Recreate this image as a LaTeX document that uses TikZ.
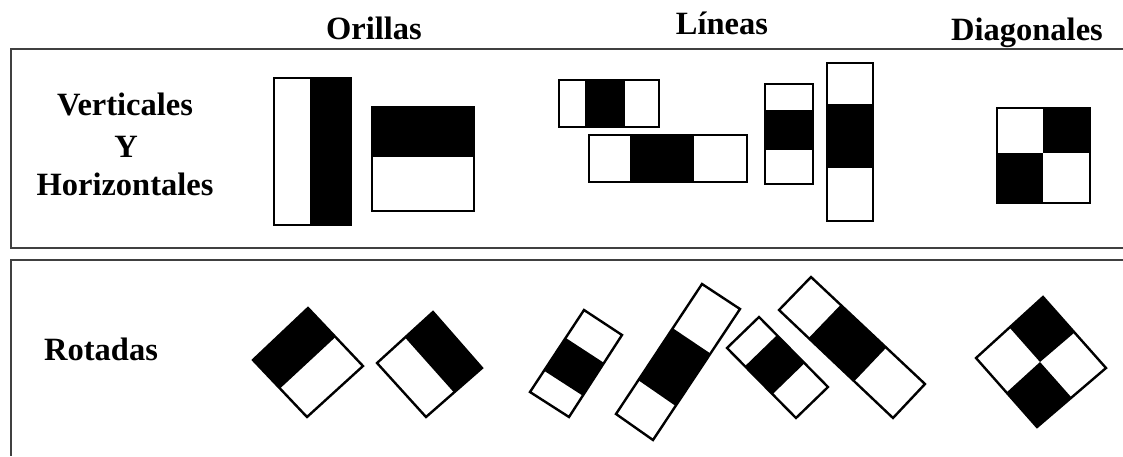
\documentclass[tikz,border=0pt]{standalone}
\usepackage{fontspec}
\setmainfont{Liberation Serif}
\usetikzlibrary{calc}

\begin{document}
\begin{tikzpicture}[
    x=1pt, y=-1pt,
    heading/.style={font=\fontsize{32.5}{40}\selectfont\bfseries, anchor=base, inner sep=0pt},
    rowlabel/.style={font=\fontsize{32.5}{40}\selectfont\bfseries, anchor=base, inner sep=0pt},
    frame/.style={draw=black!75, line width=2pt},
    tile/.style={draw=black, line width=2.4pt},
    dark/.style={fill=black}
]
\useasboundingbox (0,0) rectangle (1123,456);

% Frames
\draw[frame] (1123,49) -- (11,49) -- (11,248) -- (1123,248);
\draw[frame] (1123,260) -- (11,260) -- (11,456);

% Column headings
\node[heading] (orillas) at (374,39) {Orillas};
\node[heading] (lineas) at (722,34) {Líneas};
\node[heading] (diagonales) at (1027,40) {Diagonales};

% Row labels
\node[rowlabel] (verticales) at (125,115) {Verticales};
\node[rowlabel] (yconj) at (126,157) {Y};
\node[rowlabel] (horizontales) at (125,195) {Horizontales};
\node[rowlabel, anchor=base west] (rotadas) at (44,360) {Rotadas};

% Verticales y horizontales - Orillas
\fill[dark] (310,78) rectangle (351,225);
\draw[tile] (274,78) rectangle (351,225);
\fill[dark] (372,107) rectangle (474,157);
\draw[tile] (372,107) rectangle (474,211);

% Verticales y horizontales - Lineas
\fill[dark] (585,80) rectangle (625,127);
\draw[tile] (559,80) rectangle (659,127);
\fill[dark] (630,135) rectangle (694,182);
\draw[tile] (589,135) rectangle (747,182);
\fill[dark] (765,110) rectangle (813,150);
\draw[tile] (765,84) rectangle (813,184);
\fill[dark] (827,104) rectangle (873,168);
\draw[tile] (827,63) rectangle (873,221);

% Verticales y horizontales - Diagonales
\fill[dark] (1043,108) rectangle (1090,153);
\fill[dark] (997,153) rectangle (1043,203);
\draw[tile] (997,108) rectangle (1090,203);

% Rotadas - Orillas
\coordinate (e1t) at (308,308);
\coordinate (e1r) at (363,366);
\coordinate (e1b) at (307,417);
\coordinate (e1l) at (253,360);
\fill[dark] (e1t) -- ($(e1t)!0.5!(e1r)$) -- ($(e1l)!0.5!(e1b)$) -- (e1l) -- cycle;
\draw[tile] (e1t) -- (e1r) -- (e1b) -- (e1l) -- cycle;

\coordinate (e2t) at (433,312);
\coordinate (e2r) at (482,368);
\coordinate (e2b) at (426,417);
\coordinate (e2l) at (377,363);
\fill[dark] (e2t) -- (e2r) -- ($(e2r)!0.5!(e2b)$) -- ($(e2t)!0.5!(e2l)$) -- cycle;
\draw[tile] (e2t) -- (e2r) -- (e2b) -- (e2l) -- cycle;

% Rotadas - Lineas
\coordinate (l1t) at (584,310);
\coordinate (l1r) at (622,335);
\coordinate (l1b) at (569,417);
\coordinate (l1l) at (530,392);
\fill[dark] ($(l1l)!0.26!(l1t)$) -- ($(l1l)!0.66!(l1t)$) -- ($(l1b)!0.66!(l1r)$) -- ($(l1b)!0.26!(l1r)$) -- cycle;
\draw[tile] (l1t) -- (l1r) -- (l1b) -- (l1l) -- cycle;

\coordinate (l2t) at (702,284);
\coordinate (l2r) at (740,309);
\coordinate (l2b) at (653,440);
\coordinate (l2l) at (616,414);
\fill[dark] ($(l2l)!0.26!(l2t)$) -- ($(l2l)!0.66!(l2t)$) -- ($(l2b)!0.66!(l2r)$) -- ($(l2b)!0.26!(l2r)$) -- cycle;
\draw[tile] (l2t) -- (l2r) -- (l2b) -- (l2l) -- cycle;

\coordinate (l3t) at (759,317);
\coordinate (l3r) at (828,387);
\coordinate (l3b) at (796,418);
\coordinate (l3l) at (727,348);
\fill[dark] ($(l3l)!0.26!(l3b)$) -- ($(l3l)!0.66!(l3b)$) -- ($(l3t)!0.66!(l3r)$) -- ($(l3t)!0.26!(l3r)$) -- cycle;
\draw[tile] (l3t) -- (l3r) -- (l3b) -- (l3l) -- cycle;

\coordinate (l4t) at (811,277);
\coordinate (l4r) at (925,384);
\coordinate (l4b) at (893,418);
\coordinate (l4l) at (779,310);
\fill[dark] ($(l4l)!0.26!(l4b)$) -- ($(l4l)!0.66!(l4b)$) -- ($(l4t)!0.66!(l4r)$) -- ($(l4t)!0.26!(l4r)$) -- cycle;
\draw[tile] (l4t) -- (l4r) -- (l4b) -- (l4l) -- cycle;

% Rotadas - Diagonales
\coordinate (dt) at (1043,297);
\coordinate (dr) at (1106,368);
\coordinate (db) at (1037,427);
\coordinate (dl) at (976,358);
\coordinate (dc) at ($(dt)!0.5!(db)$);
\fill[dark] (dt) -- ($(dt)!0.5!(dr)$) -- (dc) -- ($(dt)!0.5!(dl)$) -- cycle;
\fill[dark] (db) -- ($(db)!0.5!(dr)$) -- (dc) -- ($(db)!0.5!(dl)$) -- cycle;
\draw[tile] (dt) -- (dr) -- (db) -- (dl) -- cycle;

\end{tikzpicture}
\end{document}
